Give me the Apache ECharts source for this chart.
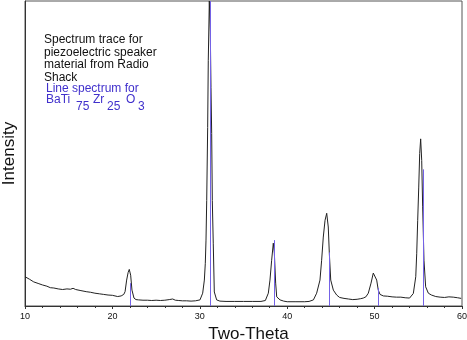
<!DOCTYPE html>
<html>
<head>
<meta charset="utf-8">
<script src="https://cdn.jsdelivr.net/npm/echarts@6/dist/echarts.min.js"></script>
<style>html,body{margin:0;padding:0;background:#fff}#c{width:467px;height:340px}</style>
</head>
<body>
<div id="c"></div>
<script>
// Measured XRD trace (two-theta, relative intensity)
const traceTwoTheta = [10.0,10.5,11.0,11.5,12.0,12.5,12.9,13.1,13.3,13.8,14.3,14.8,15.2,15.5,15.8,16.3,17.0,17.5,18.0,18.5,19.0,19.5,20.0,20.6,21.0,21.3,21.45,21.63,21.8,21.93,22.0,22.09,22.24,22.47,22.7,23.0,23.5,24.0,24.5,25.0,25.5,26.0,26.5,26.9,27.2,27.6,28.0,28.5,29.0,29.5,30.02,30.33,30.52,30.63,30.71,30.79,30.90,30.97,31.09,31.2,31.28,31.36,31.43,31.54,31.66,31.93,32.3,33,34,35,36,37,37.5,37.84,38.03,38.22,38.41,38.53,38.68,38.8,39.18,39.6,40,41,42,42.5,43.0,43.37,43.75,43.94,44.13,44.33,44.52,44.70,44.82,44.98,45.28,45.66,46.0,46.5,47.0,47.5,48.0,48.4,48.7,49.0,49.28,49.59,49.85,50.04,50.24,50.42,50.62,51.0,51.5,52.0,52.5,53.0,53.5,54.0,54.2,54.43,54.71,54.82,54.93,55.05,55.16,55.27,55.39,55.5,55.65,55.84,56.15,56.5,57,57.5,58,58.5,59,59.5,59.9];
const traceIntensity = [9.6,8.8,7.9,7.4,6.9,6.5,6.0,6.4,5.9,5.6,5.4,5.6,5.5,5.8,5.4,5.1,4.7,4.5,4.2,4.0,3.8,3.6,3.5,3.1,3.3,3.8,4.7,8.5,11.0,12.0,11.5,10.1,5.2,2.6,2.1,2.0,1.9,1.9,1.8,1.9,1.8,1.9,2.1,2.3,1.9,1.8,1.7,1.7,1.6,1.7,2.0,4.2,8.5,14,21.6,34.6,58.5,80.4,100,90,71.6,56.5,34.6,20.6,4.6,2.0,1.6,1.5,1.5,1.5,1.5,1.5,1.8,4.2,8.5,15,20.6,17.3,7.5,3.0,2.0,1.6,1.4,1.4,1.4,1.5,2.0,4.2,8.5,15,22.6,28.1,30.4,25.9,17.3,8.5,5.2,3.6,2.8,2.5,2.3,2.1,2.2,2.4,2.6,3.0,4.2,7.5,10.8,11.2,8.5,5.2,3.8,3.3,3.2,3.0,2.9,2.9,2.7,2.6,3.0,4.1,9.6,17.3,28.1,39,50,54.8,47.7,32.5,15,6.3,4.2,3.6,3.1,2.9,2.8,3.0,2.9,2.7,2.5];

// Line spectrum for BaTi.75Zr.25O3
const lineTwoTheta = [22.0, 31.17, 38.53, 44.78, 50.42, 55.54];
const lineIntensity = [7.5, 100, 21.6, 17.6, 5.9, 44.8];

const xTickValues = [10, 20, 30, 40, 50, 60];

const traceData = traceTwoTheta.map((t, i) => [t, traceIntensity[i]]);
const lineData = lineTwoTheta.map((t, i) => [t, lineIntensity[i]]);

const chart = echarts.init(document.getElementById('c'), null, {renderer: 'canvas'});
const FONT = '"Liberation Sans", Arial, sans-serif';
const black = '#111';
const blue = '#4030cc';

function txt(x, y, s, color, size) {
  return {type: 'text', left: x, top: y, silent: true, z: 20,
    style: {text: s, fill: color, font: (size || 12) + 'px ' + FONT}};
}

chart.setOption({
  animation: false,
  grid: {left: 25, right: 5, top: 1, bottom: 34, show: true, borderColor: '#555', borderWidth: 1,
         containLabel: false, outerBoundsMode: 'none'},
  xAxis: {
    type: 'value', min: xTickValues[0], max: xTickValues[xTickValues.length - 1], interval: 10,
    name: 'Two-Theta', nameLocation: 'middle', nameGap: 17,
    nameTextStyle: {fontFamily: FONT, fontSize: 17, color: black, padding: [0, 0, 0, 10]},
    axisLine: {show: true, lineStyle: {color: '#333', width: 1}},
    axisTick: {show: true, length: 3, lineStyle: {color: '#333'}},
    minorTick: {show: true, splitNumber: 5, length: 2, lineStyle: {color: '#333'}},
    axisLabel: {fontFamily: FONT, fontSize: 9, color: black, margin: 6},
    splitLine: {show: false}
  },
  yAxis: {
    type: 'value', min: 0, max: 100,
    name: 'Intensity', nameLocation: 'middle', nameGap: 7,
    nameTextStyle: {fontFamily: FONT, fontSize: 17, color: black},
    axisLine: {show: true, lineStyle: {color: '#333', width: 1}},
    axisTick: {show: false}, axisLabel: {show: false}, splitLine: {show: false}
  },
  series: [
    {
      type: 'line', data: traceData, symbol: 'none', clip: true,
      lineStyle: {color: '#222', width: 1}, z: 2
    },
    {
      type: 'custom', data: lineData, z: 10, clip: true,
      renderItem: function (params, api) {
        const p0 = api.coord([api.value(0), 0]);
        const p1 = api.coord([api.value(0), api.value(1)]);
        const x = Math.round(p0[0]) + 0.5;
        return {type: 'line', shape: {x1: x, y1: p0[1], x2: x, y2: p1[1]},
          style: {stroke: '#7462e6', lineWidth: 1}, z2: 10};
      }
    }
  ],
  graphic: [
    txt(44, 34, 'Spectrum trace for', black),
    txt(44, 47, 'piezoelectric speaker', black),
    txt(44, 59, 'material from Radio', black),
    txt(44, 72, 'Shack', black),
    txt(46, 83, 'Line spectrum for', blue),
    txt(46, 94, 'BaTi', blue),
    txt(76, 101, '75', blue),
    txt(93, 94, 'Zr', blue),
    txt(107, 101, '25', blue),
    txt(126, 94, 'O', blue),
    txt(138, 101, '3', blue)
  ]
});
</script>
</body>
</html>
